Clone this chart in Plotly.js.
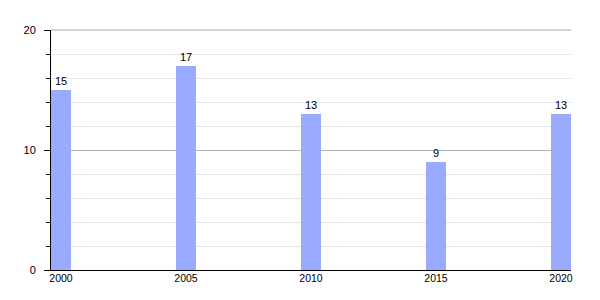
<!DOCTYPE html>
<html><head><meta charset="utf-8">
<script src="https://cdn.plot.ly/plotly-3.0.1.min.js"></script>
<style>html,body{margin:0;padding:0;background:#fff}</style>
</head><body>
<div id="chart" style="width:600px;height:300px"></div>
<script>
const years = [2000, 2005, 2010, 2015, 2020];
const values = [15, 17, 13, 9, 13];
const tickLabels = ['2000', '2005', '2010', '2015', '2020'];

Plotly.newPlot('chart', [{
  type: 'bar',
  x: years,
  y: values,
  width: 0.8,
  marker: {color: '#99aaff', line: {width: 0}},
  text: values.map(String),
  textposition: 'outside',
  textfont: {family: 'Liberation Sans, Arial, sans-serif', size: 11, color: '#000'},
  cliponaxis: false,
  hoverinfo: 'none'
}], {
  width: 600, height: 300,
  margin: {l: 51, r: 29, t: 30, b: 30, pad: 0},
  paper_bgcolor: '#fff', plot_bgcolor: '#fff',
  showlegend: false,
  font: {family: 'Liberation Sans, Arial, sans-serif', size: 11, color: '#000'},
  xaxis: {
    range: [1999.6, 2020.4],
    tickvals: years, ticktext: tickLabels,
    showgrid: false, zeroline: false,
    showline: true, linecolor: '#000', linewidth: 1,
    ticks: '', tickfont: {size: 10.5},
    ticklabelstandoff: -2
  },
  yaxis: {
    range: [0, 20],
    tickvals: [0, 10, 20],
    showgrid: true, gridcolor: '#b4b4b4', gridwidth: 1,
    zeroline: false,
    showline: true, linecolor: '#000', linewidth: 1,
    ticks: 'outside', ticklen: 6, tickcolor: '#000',
    tickfont: {size: 11},
    ticklabelstandoff: 6,
    minor: {dtick: 2, showgrid: true, gridcolor: '#e4e4e4', gridwidth: 1, ticks: 'outside', ticklen: 4, tickcolor: '#000'}
  },
  shapes: [{type: 'line', xref: 'paper', yref: 'paper', x0: 0, x1: 1, y0: 1, y1: 1,
            line: {color: '#a8a8a8', width: 1}, layer: 'above'}],
  bargap: 0
}, {displayModeBar: false, staticPlot: true});
</script>
</body></html>
